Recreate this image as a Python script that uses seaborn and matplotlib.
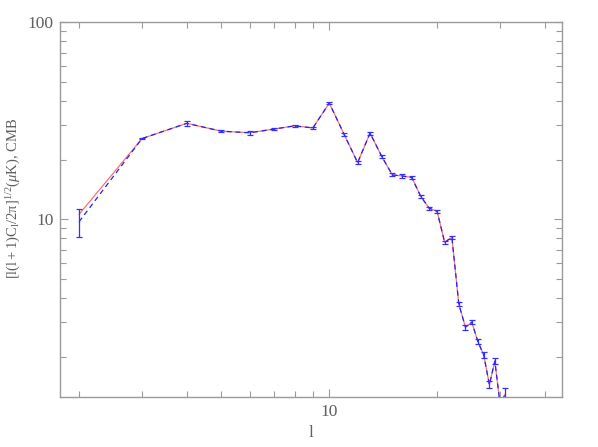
import numpy as np
import pandas as pd
import matplotlib
matplotlib.use('Agg')
import matplotlib.pyplot as plt
from matplotlib.ticker import LogLocator, NullFormatter, FixedLocator, FixedFormatter
import seaborn as sns

# ── data ─────────────────────────────────────────────────────────────────────
multipole = [2, 3, 4, 5, 6, 7, 8, 9, 10, 11, 12, 13, 14, 15, 16, 17,
             18, 19, 20, 21, 22, 23, 24, 25, 26, 27, 28, 29, 30, 31]
cmb_data = [9.72, 25.7, 30.7, 28.0, 27.5, 28.7, 29.8, 29.1, 38.9, 27.0,
            19.4, 27.4, 20.9, 16.8, 16.6, 16.3, 13.1, 11.4, 11.0, 7.65,
            8.11, 3.72, 2.84, 3.01, 2.40, 2.05, 1.45, 1.91, 1.15, 1.30]
cmb_err = [1.57, 0.25, 0.8, 0.4, 0.7, 0.3, 0.3, 0.3, 0.6, 0.4,
           0.3, 0.5, 0.35, 0.3, 0.3, 0.3, 0.25, 0.2, 0.2, 0.15,
           0.15, 0.1, 0.08, 0.08, 0.07, 0.07, 0.06, 0.07, 0.06, 0.10]
cmb_model = [10.6, 25.7, 30.7, 28.0, 27.5, 28.7, 29.8, 29.1, 38.9, 27.0,
             19.4, 27.4, 20.9, 16.8, 16.6, 16.3, 13.1, 11.4, 11.0, 7.65,
             8.11, 3.72, 2.84, 3.01, 2.40, 2.05, 1.45, 1.91, 1.15, 1.30]

df = pd.DataFrame({'l': multipole, 'data': cmb_data, 'err': cmb_err,
                   'model': cmb_model})

# ── style ────────────────────────────────────────────────────────────────────
sns.set_style('ticks')
plt.rcParams['font.family'] = ['Liberation Serif', 'DejaVu Serif']
plt.rcParams['mathtext.fontset'] = 'custom'
plt.rcParams['mathtext.rm'] = 'Liberation Serif'
plt.rcParams['mathtext.it'] = 'Liberation Serif:italic'
GREY_TXT = '#606060'
GREY_AX = '#9a9a9a'

fig = plt.figure(figsize=(5.98, 4.47), dpi=100)
ax = fig.add_axes([0.1008, 0.1125, 0.9406 - 0.1008, 0.9503 - 0.1125])

sns.lineplot(data=df, x='l', y='model', color='#ff7070', lw=0.9, ax=ax,
             estimator=None, sort=False)
sns.lineplot(data=df, x='l', y='data', color='#2020ff', lw=0.9, ax=ax,
             estimator=None, sort=False, linestyle=(0, (4, 3)))
ax.errorbar(df['l'], df['data'], yerr=df['err'], fmt='none',
            ecolor='#3030ff', elinewidth=0.9, capsize=2.5, capthick=0.9)

ax.set_xscale('log')
ax.set_yscale('log')
ax.set_xlim(1.773, 44.8)
ax.set_ylim(1.26, 100)

# ticks
ax.xaxis.set_major_locator(FixedLocator([10]))
ax.xaxis.set_major_formatter(FixedFormatter(['10']))
ax.xaxis.set_minor_locator(LogLocator(base=10, subs=np.arange(2, 10)))
ax.xaxis.set_minor_formatter(NullFormatter())
ax.yaxis.set_major_locator(FixedLocator([10, 100]))
ax.yaxis.set_major_formatter(FixedFormatter(['10', '100']))
ax.yaxis.set_minor_locator(LogLocator(base=10, subs=np.arange(2, 10)))
ax.yaxis.set_minor_formatter(NullFormatter())
ax.tick_params(which='both', direction='in', top=True, right=True,
               color=GREY_AX, labelcolor=GREY_TXT, labelsize=12.5, width=0.8)
ax.tick_params(which='major', length=6, pad=5)
ax.tick_params(which='minor', length=4)
for s in ax.spines.values():
    s.set_color(GREY_AX)
    s.set_linewidth(1.0)

ax.set_xlabel('l', color=GREY_TXT, fontsize=12.5, labelpad=4)
ax.set_ylabel(r'$[\mathrm{l(l+1)C_l/2\pi]^{1/2}(}\mu\mathrm{K)}$, CMB',
              color=GREY_TXT, fontsize=10.5)
ax.yaxis.set_label_coords(-0.074, 0.53)

fig.savefig('out.png', dpi=100, facecolor='white')
